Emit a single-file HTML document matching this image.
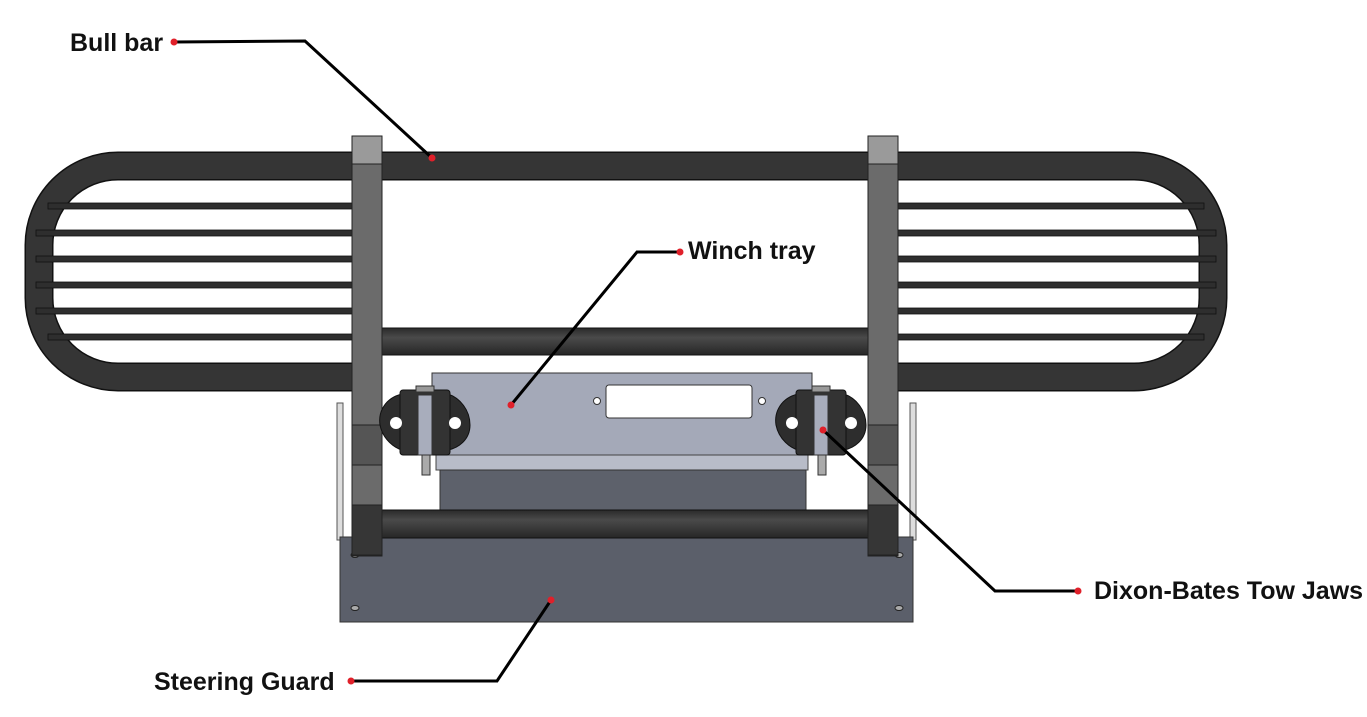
<!DOCTYPE html>
<html><head><style>
html,body{margin:0;padding:0;background:#fff;}
svg{display:block}
text{font-family:"Liberation Sans",sans-serif;font-weight:bold;font-size:25px;fill:#111}
</style></head><body>
<svg width="1367" height="717" viewBox="0 0 1367 717" xmlns="http://www.w3.org/2000/svg">
<defs>
<linearGradient id="tube" x1="0" y1="0" x2="0" y2="1">
<stop offset="0" stop-color="#2a2a2a"/><stop offset="0.35" stop-color="#4a4a4a"/><stop offset="1" stop-color="#262626"/>
</linearGradient>
</defs>
<!-- loops -->
<g fill="none" stroke="#111" stroke-width="29">
<path d="M354 166 H118 A79 79 0 0 0 39 245 V298 A79 79 0 0 0 118 377 H354"/>
<path d="M898 166 H1134 A79 79 0 0 1 1213 245 V298 A79 79 0 0 1 1134 377 H898"/>
<path d="M354 166 H898"/>
</g>
<g fill="none" stroke="#353535" stroke-width="26">
<path d="M354 166 H118 A79 79 0 0 0 39 245 V298 A79 79 0 0 0 118 377 H354"/>
<path d="M898 166 H1134 A79 79 0 0 1 1213 245 V298 A79 79 0 0 1 1134 377 H898"/>
<path d="M354 166 H898"/>
</g>
<!-- rods -->
<g fill="#2e2e2e" stroke="#111" stroke-width="0.8">
<rect x="48" y="203" width="306" height="6"/>
<rect x="36" y="230" width="318" height="6"/>
<rect x="36" y="256" width="318" height="6"/>
<rect x="36" y="282" width="318" height="6"/>
<rect x="36" y="308" width="318" height="6"/>
<rect x="48" y="334" width="306" height="6"/>
<rect x="898" y="203" width="306" height="6"/>
<rect x="898" y="230" width="318" height="6"/>
<rect x="898" y="256" width="318" height="6"/>
<rect x="898" y="282" width="318" height="6"/>
<rect x="898" y="308" width="318" height="6"/>
<rect x="898" y="334" width="306" height="6"/>
</g>
<rect x="380" y="328" width="490" height="27" fill="url(#tube)" stroke="#111"/>
<!-- steering guard flanges -->
<rect x="337" y="403" width="6" height="137" fill="#ddd" stroke="#555"/>
<rect x="910" y="403" width="6" height="137" fill="#ddd" stroke="#555"/>
<!-- winch tray -->
<rect x="432" y="373" width="380" height="82" fill="#a4a9b8" stroke="#333"/>
<rect x="436" y="455" width="372" height="15" fill="#b8bcc8" stroke="#444"/>
<rect x="606" y="385" width="146" height="33" rx="3" fill="#fff" stroke="#333"/>
<circle cx="597" cy="401" r="3.5" fill="#fff" stroke="#333"/>
<circle cx="762" cy="401" r="3.5" fill="#fff" stroke="#333"/>
<rect x="440" y="470" width="366" height="42" fill="#5d616b" stroke="#333"/>
<!-- steering guard -->
<rect x="340" y="537" width="573" height="85" fill="#5b5f6a" stroke="#333"/>
<g fill="#aaa" stroke="#222"><ellipse cx="355" cy="555" rx="4" ry="2.5"/><ellipse cx="355" cy="608" rx="4" ry="2.5"/><ellipse cx="899" cy="555" rx="4" ry="2.5"/><ellipse cx="899" cy="608" rx="4" ry="2.5"/></g>
<rect x="380" y="510" width="490" height="28" fill="url(#tube)" stroke="#111"/>
<!-- uprights -->
<g stroke="#222">
<rect x="352" y="136" width="30" height="420" fill="#6b6b6b"/>
<rect x="352" y="136" width="30" height="28" fill="#9a9a9a"/>
<rect x="352" y="505" width="30" height="50" fill="#363636"/>
<rect x="352" y="425" width="30" height="40" fill="#555"/>
<rect x="868" y="136" width="30" height="420" fill="#6b6b6b"/>
<rect x="868" y="136" width="30" height="28" fill="#9a9a9a"/>
<rect x="868" y="505" width="30" height="50" fill="#363636"/>
<rect x="868" y="425" width="30" height="40" fill="#555"/>
</g>
<!-- tow jaws -->
<g id="jaw">
<path d="M402 394 C385 398 378 412 380 425 C383 440 395 448 402 450 H448 C458 448 470 440 470 425 C470 410 460 398 448 394 Z" fill="#2d2d2d" stroke="#111"/>
<rect x="400" y="390" width="50" height="65" rx="3" fill="#333" stroke="#111"/>
<circle cx="396" cy="423" r="6" fill="#fff"/>
<circle cx="455" cy="423" r="6" fill="#fff"/>
<rect x="418" y="395" width="14" height="60" fill="#a8adbc" stroke="#333"/>
<rect x="416" y="386" width="18" height="6" fill="#999" stroke="#333"/>
<rect x="422" y="455" width="8" height="20" fill="#aaa" stroke="#333"/>
</g>
<use href="#jaw" x="396"/>
<!-- leaders -->
<g fill="none" stroke="#000" stroke-width="3">
<polyline points="174,42 305,41 432,158"/>
<polyline points="680,252 637,252 511,405"/>
<polyline points="1078,591 995,591 823,430"/>
<polyline points="351,681 497,681 551,600"/>
</g>
<g fill="#e0202a">
<circle cx="174" cy="42" r="3.5"/><circle cx="432" cy="158" r="3.5"/>
<circle cx="680" cy="252" r="3.5"/><circle cx="511" cy="405" r="3.5"/>
<circle cx="1078" cy="591" r="3.5"/><circle cx="823" cy="430" r="3.5"/>
<circle cx="351" cy="681" r="3.5"/><circle cx="551" cy="600" r="3.5"/>
</g>
<text x="70" y="51">Bull bar</text>
<text x="688" y="259">Winch tray</text>
<text x="1094" y="599">Dixon-Bates Tow Jaws</text>
<text x="154" y="690">Steering Guard</text>
</svg>
</body></html>
